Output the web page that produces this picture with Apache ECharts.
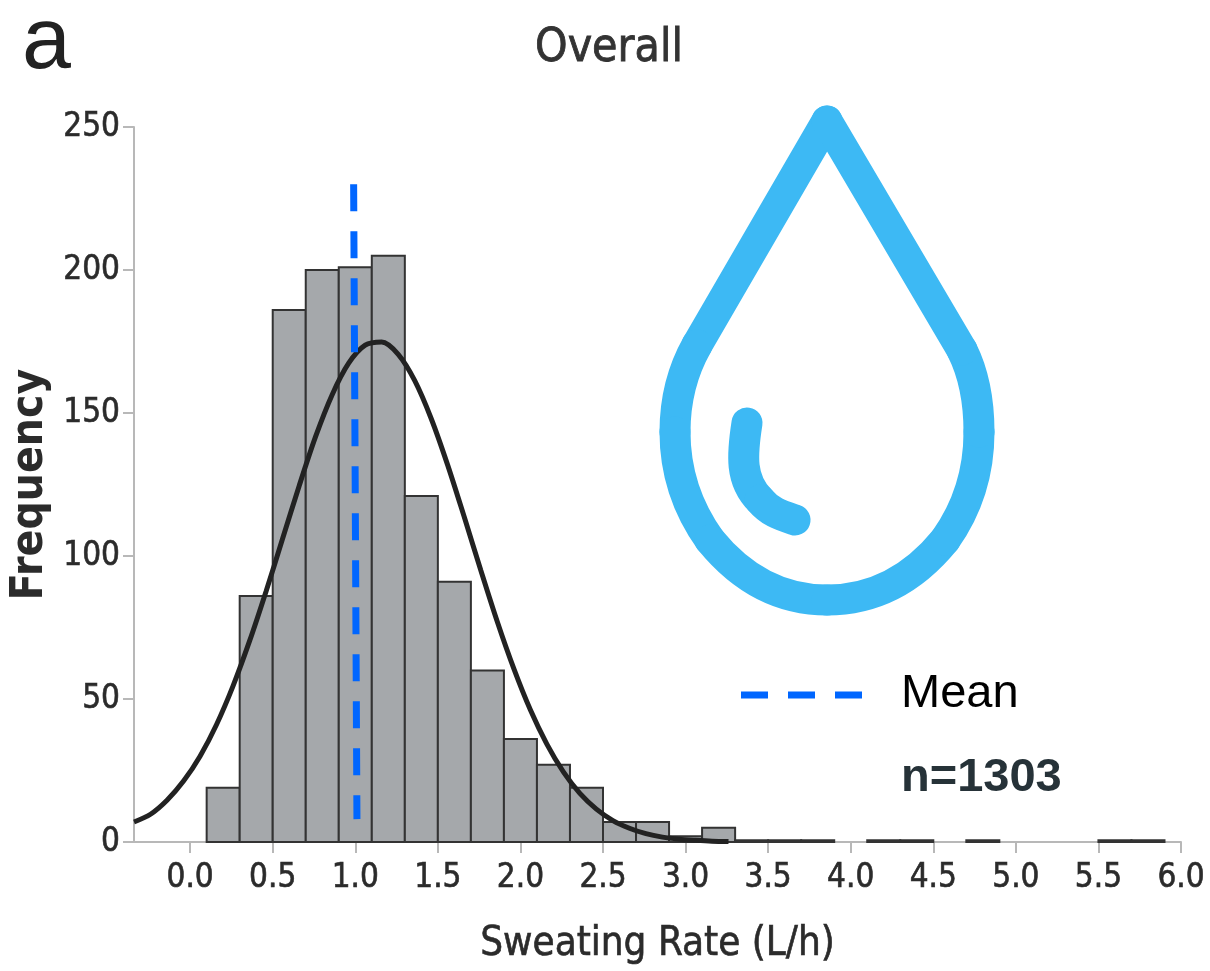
<!DOCTYPE html>
<html><head><meta charset="utf-8">
<style>html,body{margin:0;padding:0;background:#fff}#c{width:1210px;height:971px}</style>
<script src="https://cdn.jsdelivr.net/npm/echarts@6/dist/echarts.min.js"></script>
</head><body><div id="c"></div>
<script>
const binStarts = [0.1,0.3,0.5,0.7,0.9,1.1,1.3,1.5,1.7,1.9,2.1,2.3,2.5,2.7,2.9,3.1,3.3,3.5,3.7,4.1,4.3,4.7,5.5,5.7];
const binEnds   = [0.3,0.5,0.7,0.9,1.1,1.3,1.5,1.7,1.9,2.1,2.3,2.5,2.7,2.9,3.1,3.3,3.5,3.7,3.9,4.3,4.5,4.9,5.7,5.9];
const binCounts = [19,86,186,200,201,205,121,91,60,36,27,19,7,7,2,5,0.6,0.6,0.6,0.6,0.6,0.6,0.6,0.6];
const curveX = [-0.34,-0.24,-0.14,-0.04,0.06,0.16,0.26,0.36,0.46,0.56,0.66,0.76,0.86,0.96,1.06,1.16,1.26,1.36,1.46,1.56,1.66,1.76,1.86,1.96,2.06,2.16,2.26,2.36,2.46,2.56,2.66,2.76,2.86,2.96,3.06,3.16,3.26];
const curveY = [7,9.7,14.6,21.3,30,41.1,54.6,70.3,87.7,106.1,124.5,141.8,156.4,167.4,173.7,174.8,170.5,161.3,148,131.7,113.6,95,77,60.6,46.2,34.2,24.5,17,11.5,7.5,4.8,2.9,1.7,1,0.6,0.3,0.2];
const meanX = [0.99,1.01];
const meanY = [230,8];
const xTicks = [0,0.5,1,1.5,2,2.5,3,3.5,4,4.5,5,5.5,6];
const axisFont = '"DejaVu Sans Condensed","Open Sans",sans-serif';
const bars = binStarts.map((s,i)=>[s,binEnds[i],binCounts[i]]);
const dropStyle = {fill:'none',stroke:'#3DB9F4',lineWidth:31,lineCap:'round',lineJoin:'round'};
const bez = (a,b,c,d,e,f,g,h)=>({type:'bezierCurve',shape:{x1:a,y1:b,cpx1:c,cpy1:d,cpx2:e,cpy2:f,x2:g,y2:h},style:dropStyle,z:10});
const seg = (a,b,c,d)=>({type:'line',shape:{x1:a,y1:b,x2:c,y2:d},style:dropStyle,z:10});
const chart = echarts.init(document.getElementById('c'),null,{renderer:'canvas'});
chart.setOption({
  animation:false,
  backgroundColor:'#fff',
  grid:{left:134,right:29,top:127,bottom:129,containLabel:false},
  title:{text:'Overall',left:604,top:21,textAlign:'center',textStyle:{fontFamily:axisFont,fontSize:46,fontWeight:'normal',color:'#333',textBorderColor:'#333',textBorderWidth:0.8}},
  xAxis:{type:'value',min:-0.34,max:6,
    name:'Sweating Rate (L/h)',nameLocation:'middle',nameGap:83,
    nameTextStyle:{fontFamily:axisFont,fontSize:40,color:'#2b2b2b',textBorderColor:'#2b2b2b',textBorderWidth:0.6},
    axisLine:{onZero:false,lineStyle:{color:'#b8b8b8',width:2}},
    axisTick:{customValues:xTicks,length:11,lineStyle:{color:'#b8b8b8',width:2}},
    axisLabel:{customValues:xTicks,formatter:v=>v.toFixed(1),margin:20,fontFamily:axisFont,fontSize:33,color:'#2b2b2b',textBorderColor:'#2b2b2b',textBorderWidth:0.6},
    splitLine:{show:false}},
  yAxis:{type:'value',min:0,max:250,interval:50,
    name:'Frequency',nameLocation:'middle',nameGap:28,
    nameTextStyle:{fontFamily:axisFont,fontSize:44,color:'#2b2b2b',fontWeight:'bold'},
    axisLine:{show:true,onZero:false,lineStyle:{color:'#b8b8b8',width:2}},
    axisTick:{show:true,length:11,lineStyle:{color:'#b8b8b8',width:2}},
    axisLabel:{margin:14,padding:[6,0,0,0],fontFamily:axisFont,fontSize:33,color:'#2b2b2b',textBorderColor:'#2b2b2b',textBorderWidth:0.6},
    splitLine:{show:false}},
  series:[
    {type:'custom',data:bars,z:2,encode:{x:[0,1],y:2},
     renderItem:(p,api)=>{
       const a=api.coord([api.value(0),api.value(2)]);
       const b=api.coord([api.value(1),0]);
       return {type:'rect',shape:{x:a[0],y:a[1],width:b[0]-a[0],height:b[1]-a[1]},
         style:{fill:'#A5A8AB',stroke:'#333',lineWidth:2}};
     }},
    {type:'line',data:curveX.map((x,i)=>[x,curveY[i]]),smooth:0.3,showSymbol:false,symbol:'none',z:3,
     lineStyle:{color:'#222',width:5},clip:false},
    {type:'line',data:meanX.map((x,i)=>[x,meanY[i]]),showSymbol:false,symbol:'none',z:4,
     lineStyle:{color:'#0066FF',width:7,type:[27,20]}}
  ],
  graphic:[
    {type:'text',x:22,y:0,style:{text:'a',fontFamily:'"Liberation Sans",sans-serif',fontSize:88,fill:'#222'}},
    seg(827,121,697,345),
    bez(697,345,684,368,675,395,675,432),
    bez(675,432,675,475,690,512,710,540),
    bez(710,540,745,583,785,600,827,600),
    bez(827,600,870,600,910,583,945,540),
    bez(945,540,965,512,979,475,979,432),
    bez(979,432,979,395,972,370,962,350),
    seg(962,350,827,121),
    bez(747,423,742,455,740,480,760,500),
    bez(760,500,770,512,780,515,795,520),
    {type:'line',shape:{x1:741,y1:695,x2:862,y2:695},style:{stroke:'#0066FF',lineWidth:7,lineDash:[27,20]},z:10},
    {type:'text',x:901,y:671,style:{text:'Mean',fontFamily:'"Liberation Sans",sans-serif',fontSize:47,fill:'#000'},z:10},
    {type:'text',x:901,y:755,style:{text:'n=1303',fontFamily:'"Liberation Sans",sans-serif',fontWeight:'bold',fontSize:47,fill:'#263238'},z:10}
  ]
});
</script></body></html>
